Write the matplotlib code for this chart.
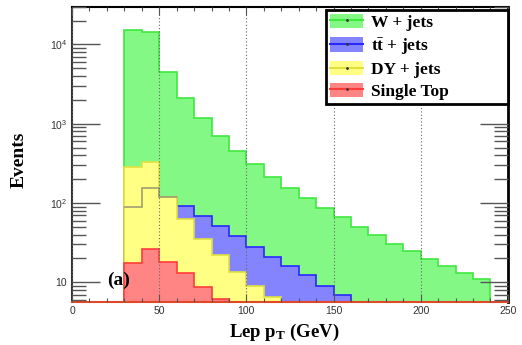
import numpy as np
import matplotlib
matplotlib.use('Agg')
import matplotlib.pyplot as plt
from matplotlib.patches import Patch
from matplotlib.lines import Line2D
from matplotlib.ticker import FixedLocator, FixedFormatter, MultipleLocator

plt.rcParams['mathtext.fontset'] = 'custom'
plt.rcParams['mathtext.rm'] = 'Liberation Serif:bold'
plt.rcParams['mathtext.bf'] = 'Liberation Serif:bold'
plt.rcParams['mathtext.it'] = 'Liberation Serif:bold'

# lepton pT bins, 10 GeV wide
bin_edges = np.arange(30, 250, 10)

# per-sample heights as drawn (overlaid, not stacked)
w_jets = [15300, 14400, 4480, 2100, 1180, 697, 446, 312, 215, 154, 115,
          86, 67, 50, 39, 30, 25, 19.5, 16, 13.2, 10.9]
tt_jets = [90, 156, 120, 92, 69, 51, 38.5, 27.7, 20.7, 16, 12.4,
           9.1, 6.9, 0, 0, 0, 0, 0, 0, 0, 0]
dy_jets = [288, 327, 120, 62, 35, 22, 13.6, 9.1, 6.6, 0, 0,
           0, 0, 0, 0, 0, 0, 0, 0, 0, 0]
single_top = [17.4, 26, 18.2, 13.2, 8.6, 6.2, 0, 0, 0, 0, 0,
              0, 0, 0, 0, 0, 0, 0, 0, 0, 0]

labels = ['W + jets', r'$\mathbf{t\bar{t}}$ + jets', 'DY + jets', 'Single Top']
fills = ['#84f884', '#8484ff', '#ffff84', '#ff8484']
edges = ['#40e840', '#2828ff', '#e0e040', '#ff3c3c']

ytick_vals = [10, 100, 1000, 10000]
ytick_labels = ['10', r'$\mathdefault{10^{2}}$', r'$\mathdefault{10^{3}}$', r'$\mathdefault{10^{4}}$']

floor = 1e-3
fig = plt.figure(figsize=(5.22, 3.45), dpi=100)
ax = fig.add_axes([0.138, 0.124, 0.835, 0.857])
ax.set_yscale('log')

for vals, fc, ec in zip([w_jets, tt_jets, dy_jets, single_top], fills, edges):
    v = np.array(vals, dtype=float)
    v = np.where(v > 0, v, floor)
    ax.stairs(v, bin_edges, baseline=floor, fill=True,
              facecolor=fc, edgecolor=ec, linewidth=1.2)

# ttbar outline where it sits under the DY fill
tt = np.array(tt_jets)
dy = np.array(dy_jets)
hid = np.where((tt > 0) & (tt <= dy))[0]
ax.stairs(tt[hid], bin_edges[hid[0]:hid[-1] + 2], baseline=None,
          color='#a0a070', linewidth=1.2)

ax.set_xlim(0, 250)
ax.set_ylim(5.6, 30000)

ax.xaxis.grid(True, linestyle=(0, (1, 2)), color='#666666', linewidth=0.8)
ax.set_axisbelow(False)

ax.xaxis.set_major_locator(MultipleLocator(50))
ax.xaxis.set_minor_locator(MultipleLocator(10))
ax.yaxis.set_major_locator(FixedLocator(ytick_vals))
ax.yaxis.set_major_formatter(FixedFormatter(ytick_labels))
ax.tick_params(axis='both', which='both', direction='in', colors='#555555',
               labelcolor='#333333', labelsize=7.5, top=True, right=True)
ax.tick_params(axis='y', which='major', length=20, width=1)
ax.tick_params(axis='y', which='minor', length=10, width=1)
ax.tick_params(axis='x', which='major', length=6, width=0.8, pad=3)
ax.tick_params(axis='x', which='minor', length=3, width=0.8)
for lab in ax.get_xticklabels() + ax.get_yticklabels():
    lab.set_family('Liberation Sans')

ax.spines['top'].set_color('black')
ax.spines['top'].set_linewidth(1.5)
ax.spines['right'].set_color('black')
ax.spines['right'].set_linewidth(2)
ax.spines['left'].set_color('#333333')
ax.spines['left'].set_linewidth(1.5)
ax.spines['bottom'].set_color('#e04828')
ax.spines['bottom'].set_linewidth(1.5)

ax.set_ylabel('Events', family='Liberation Serif', weight='bold', fontsize=14)
ax.yaxis.set_label_coords(-0.101, 0.48)
ax.set_xlabel(r'Lep p$_{\mathbf{T}}$ (GeV)', family='Liberation Serif',
              weight='bold', fontsize=13.5)
ax.xaxis.set_label_coords(0.486, -0.068)

ax.text(20, 10.7, '(a)', family='Liberation Serif', weight='bold',
        fontsize=14, va='center', ha='left')

handles = []
for fc, ec in zip(fills, edges):
    handles.append((Patch(facecolor=fc, edgecolor='none'),
                    Line2D([], [], color=ec, linewidth=1.5, marker='.',
                           markersize=2, markerfacecolor='#333333',
                           markeredgecolor='#333333')))
leg = ax.legend(handles, labels, loc='upper left',
                bbox_to_anchor=(0.583, 0.0, 0.417, 0.99), mode='expand',
                prop={'family': 'Liberation Serif', 'weight': 'bold', 'size': 12.5},
                frameon=True, fancybox=False, framealpha=1, edgecolor='black',
                borderpad=0.25, labelspacing=0.26, handlelength=1.9,
                handleheight=0.9, handletextpad=0.45, borderaxespad=0)
leg.get_frame().set_linewidth(2)

fig.savefig('out.png', dpi=100)
